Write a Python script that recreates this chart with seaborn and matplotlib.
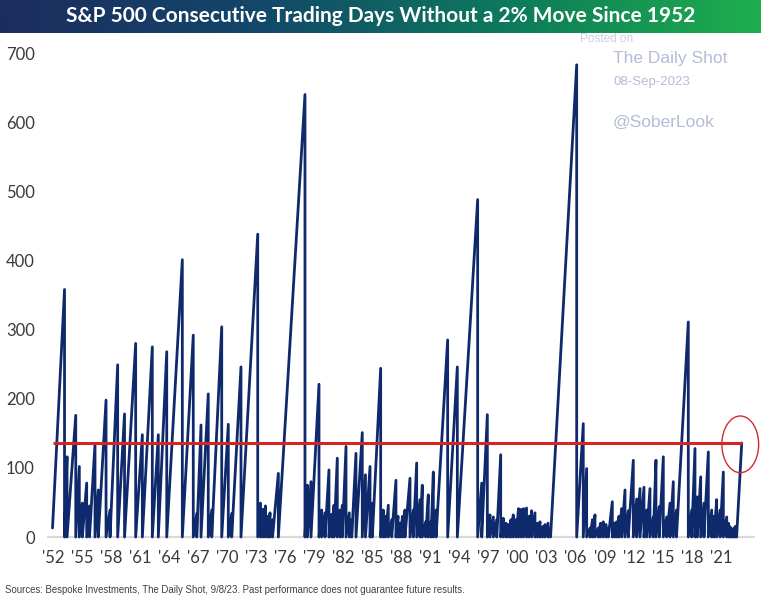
import numpy as np
import pandas as pd
import matplotlib
matplotlib.use("Agg")
import matplotlib.pyplot as plt
import seaborn as sns
from matplotlib.patches import Ellipse

# ---- data: peaks of the "days without a 2% move" counter ----
peak_year = [
    1951.95, 1953.19, 1953.45, 1954.35, 1954.72, 1955.03, 1955.48, 1955.77, 1956.34, 1956.68,
    1957.48, 1957.89, 1958.68, 1959.39, 1960.54, 1961.23, 1962.26, 1962.88, 1963.75, 1965.36,
    1966.49, 1966.85, 1967.29, 1968.04, 1968.40, 1969.43, 1970.11, 1970.46, 1971.42, 1973.15,
    1973.44, 1973.69, 1973.95, 1974.21, 1974.42, 1974.68, 1975.28, 1978.03, 1978.29, 1978.65,
    1979.48, 1979.76, 1980.10, 1980.51, 1980.79, 1981.03, 1981.37, 1981.65, 1981.89, 1982.27,
    1982.61, 1982.86, 1983.30, 1983.95, 1984.28, 1984.75, 1984.99, 1985.85, 1986.12, 1986.35,
    1986.64, 1986.99, 1987.43, 1987.64, 1987.85, 1988.11, 1988.36, 1988.88, 1989.22, 1989.57,
    1989.91, 1990.15, 1990.50, 1990.77, 1991.05, 1991.29, 1991.57, 1992.77, 1993.77, 1995.87,
    1996.29, 1996.87, 1997.14, 1997.49, 1997.84, 1998.25, 1998.52, 1998.80, 1999.06, 1999.31,
    1999.55, 1999.83, 2000.09, 2000.35, 2000.61, 2000.92, 2001.17, 2001.45, 2001.79, 2002.05,
    2002.31, 2002.57, 2002.83, 2003.14, 2003.40, 2006.10, 2006.78, 2007.13, 2007.48, 2007.73,
    2007.99, 2008.33, 2008.56, 2008.85, 2009.13, 2009.37, 2009.78, 2010.01, 2010.23, 2010.47,
    2010.75, 2011.09, 2011.43, 2011.95, 2012.30, 2012.64, 2013.05, 2013.33, 2013.67, 2014.01,
    2014.29, 2014.63, 2015.05, 2015.40, 2015.74, 2016.08, 2016.41, 2017.63, 2017.98, 2018.32,
    2018.56, 2018.91, 2019.25, 2019.70, 2020.05, 2020.29, 2020.56, 2020.91, 2021.25, 2021.60,
    2021.78, 2021.94, 2022.15, 2022.30, 2022.46, 2022.62, 2023.15,
]
peak_days = [
    13, 358, 116, 176, 102, 49, 78, 45, 135, 68,
    198, 39, 249, 178, 280, 148, 275, 148, 268, 401,
    292, 34, 162, 207, 39, 304, 163, 34, 246, 438,
    49, 40, 45, 30, 35, 25, 92, 640, 75, 80,
    221, 39, 35, 97, 33, 46, 114, 39, 46, 131,
    35, 25, 121, 151, 90, 102, 49, 244, 39, 30,
    46, 25, 82, 30, 20, 30, 39, 85, 39, 107,
    54, 75, 22, 61, 22, 94, 39, 285, 246, 488,
    78, 177, 32, 29, 25, 119, 27, 20, 18, 25,
    32, 25, 41, 40, 41, 42, 30, 38, 35, 20,
    22, 15, 18, 20, 13, 683, 164, 99, 13, 25,
    32, 13, 20, 22, 18, 13, 51, 20, 22, 30,
    41, 68, 38, 111, 55, 70, 72, 39, 70, 29,
    111, 44, 116, 29, 49, 80, 39, 311, 39, 128,
    58, 87, 49, 123, 39, 30, 54, 39, 94, 29,
    20, 15, 12, 10, 15, 15, 136,
]
current_level = 136
tick_years = list(range(1952, 2022, 3))
tick_labels = ["'" + str(y)[2:] for y in tick_years]
y_ticks = [0, 100, 200, 300, 400, 500, 600, 700]

title = "S&P 500 Consecutive Trading Days Without a 2% Move Since 1952"
source = "Sources: Bespoke Investments, The Daily Shot, 9/8/23. Past performance does not guarantee future results."

# ---- build sawtooth vertices: counter drops to 0 at each peak, then climbs ----
xs, vs = [peak_year[0]], [peak_days[0]]
for i in range(1, len(peak_year)):
    if i > 1:
        xs.append(peak_year[i - 1]); vs.append(0)
    xs.append(peak_year[i]); vs.append(peak_days[i])
df = pd.DataFrame({"year": xs, "days": vs})

sns.set_style("white")
plt.rcParams["font.family"] = ["Lato", "DejaVu Sans"]

W, H = 761, 603
fig = plt.figure(figsize=(W / 100, H / 100), dpi=100)

# axes placement (pixel based)
x0, x1 = 1951.4, 2024.5
ylo, yhi = -3, 715
left_px = 53 - (1952 - x0) * 9.68
right_px = 53 + (x1 - 1952) * 9.68
bot_px = 537 + 3 * 0.6914
top_px = 537 - 715 * 0.6914
ax = fig.add_axes([left_px / W, 1 - bot_px / H, (right_px - left_px) / W, (bot_px - top_px) / H])

sns.lineplot(data=df, x="year", y="days", sort=False, estimator=None,
             color="#0f2a6c", linewidth=2.0, ax=ax, zorder=3)

ax.axhline(0, color="#d9d9d9", lw=1.6, zorder=1)
ax.plot([1951.95, peak_year[-1]], [current_level, current_level], color="#d42424", lw=2.2, zorder=4,
        solid_capstyle="butt")
ax.add_patch(Ellipse((2023.0, 134), width=3.8, height=82, fill=False, edgecolor="#c9302c",
                     lw=1.0, zorder=5, clip_on=False))

ax.set_xlim(x0, x1)
ax.set_ylim(ylo, yhi)
ax.set_xticks(tick_years)
ax.set_xticklabels(tick_labels)
ax.set_yticks(y_ticks)
ax.set_xlabel("")
ax.set_ylabel("")
for s in ax.spines.values():
    s.set_visible(False)
ax.tick_params(axis="both", length=0, labelsize=12, labelcolor="#3a3a3a")
ax.tick_params(axis="y", pad=9)
ax.tick_params(axis="x", pad=8)

# title banner with gradient
bax = fig.add_axes([0, 1 - 33 / H, 1, 33 / H])
grad = np.linspace(0, 1, 256).reshape(1, -1)
cmap = matplotlib.colors.LinearSegmentedColormap.from_list(
    "banner", ["#1c2c5e", "#13476a", "#0d7a5c", "#1fae4c"])
bax.imshow(grad, aspect="auto", cmap=cmap, extent=[0, 1, 0, 1])
bax.set_axis_off()
bax.text(0.5, 0.5, title, color="white", fontsize=15, fontweight="bold",
         ha="center", va="center", transform=bax.transAxes)

# watermark
wm = ["Liberation Sans", "DejaVu Sans"]
fig.text(580 / W, 1 - 39 / H, "Posted on", color="#c9cde0", fontsize=8.5, family=wm,
         ha="left", va="center", zorder=0)
fig.text(613 / W, 1 - 58 / H, "The Daily Shot", color="#b5bcd6", fontsize=12.5, family=wm,
         ha="left", va="center")
fig.text(613 / W, 1 - 82 / H, "08-Sep-2023", color="#b5bcd6", fontsize=9.5, family=wm,
         ha="left", va="center")
fig.text(613 / W, 1 - 122 / H, "@SoberLook", color="#b5bcd6", fontsize=12.5, family=wm,
         ha="left", va="center")

# source
fig.text(5 / W, 1 - 590 / H, source, color="#404040", fontsize=6.9,
         family=["Liberation Sans Narrow", "Liberation Sans", "DejaVu Sans"], ha="left", va="center")

fig.savefig("out.png", dpi=100)
